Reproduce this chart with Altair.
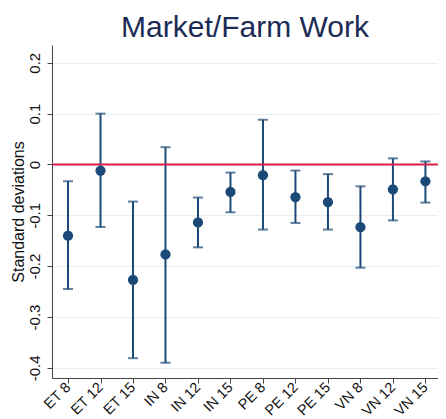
import altair as alt
import pandas as pd

labels = ["ET 8", "ET 12", "ET 15", "IN 8", "IN 12", "IN 15",
          "PE 8", "PE 12", "PE 15", "VN 8", "VN 12", "VN 15"]
est = [-0.140, -0.012, -0.227, -0.177, -0.114, -0.054,
       -0.021, -0.064, -0.074, -0.123, -0.049, -0.033]
lo = [-0.245, -0.123, -0.381, -0.390, -0.163, -0.094,
      -0.128, -0.115, -0.128, -0.203, -0.110, -0.075]
hi = [-0.033, 0.100, -0.073, 0.034, -0.065, -0.016,
      0.088, -0.012, -0.019, -0.043, 0.012, 0.006]

df = pd.DataFrame({'Group': labels, 'Estimate': est, 'Low': lo, 'High': hi})
zero = pd.DataFrame({'y': [0]})

navy = '#1b4a78'
font = 'Liberation Sans'

x = alt.X('Group:N', sort=labels, title=None,
          scale=alt.Scale(type='point', padding=0.44, align=0.56),
          axis=alt.Axis(labelAngle=-45, labelAlign='right', labelBaseline='middle',
                        labelFontSize=14.5, labelPadding=2, labelOverlap=False,
                        tickSize=5, grid=False))
yscale = alt.Scale(domain=[-0.42, 0.235], nice=False, zero=False)
yaxis = alt.Axis(values=[-0.4, -0.3, -0.2, -0.1, 0, 0.1, 0.2],
                 labelExpr="replace(format(datum.value, '.1~f'), '\u2212', '-')",
                 labelAngle=-90, labelAlign='center', labelBaseline='bottom',
                 labelFontSize=15, labelPadding=5, tickSize=5,
                 title='Standard deviations', titleFontSize=16, titleFontWeight='normal',
                 titlePadding=1, grid=True, gridColor='#e4eff2')

base = alt.Chart(df)

rules = base.mark_rule(color=navy, strokeWidth=2).encode(
    x=x,
    y=alt.Y('Low:Q', scale=yscale, axis=yaxis),
    y2='High:Q'
)
caps_lo = base.mark_tick(color=navy, thickness=2, size=10, orient='horizontal').encode(
    x=x, y=alt.Y('Low:Q', scale=yscale))
caps_hi = base.mark_tick(color=navy, thickness=2, size=10, orient='horizontal').encode(
    x=x, y=alt.Y('High:Q', scale=yscale))
zero_line = alt.Chart(zero).mark_rule(color='#d81e48', strokeWidth=2).encode(
    y=alt.Y('y:Q', scale=yscale))
points = base.mark_circle(color=navy, opacity=1, size=105).encode(
    x=x, y=alt.Y('Estimate:Q', scale=yscale))

chart = alt.layer(rules, caps_lo, caps_hi, zero_line, points).properties(
    width=386,
    height=333,
    title=alt.TitleParams('Market/Farm Work', fontSize=30, fontWeight='normal',
                          color='#1b2b55', font=font, anchor='middle', offset=2),
    autosize=alt.AutoSizeParams(type='none'),
    padding={'left': 44, 'top': 37, 'right': 0, 'bottom': 41}
).configure_axis(
    labelFont=font, titleFont=font, labelColor='#111', titleColor='#111',
    domainColor='#444', tickColor='#444', domainWidth=1
).configure_view(stroke=None)

chart.save("out.html", embed_options={"renderer": "svg", "actions": False})
